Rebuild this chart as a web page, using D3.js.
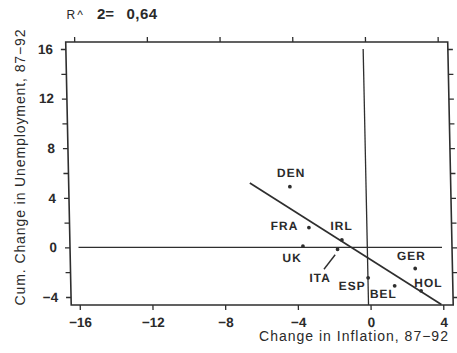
<!DOCTYPE html>
<html>
<head>
<meta charset="utf-8">
<script src="https://cdn.jsdelivr.net/npm/d3@7/dist/d3.min.js"></script>
<style>
  html, body { margin: 0; padding: 0; background: #fff; }
  svg { display: block; }
  text { font-family: "Liberation Sans", Arial, Helvetica, sans-serif; fill: #2a2a2a; }
</style>
</head>
<body>
<svg id="chart" width="457" height="353"></svg>
<script>
// Country observations: change in inflation vs. cumulative change in unemployment, 87-92
const countries   = ["DEN", "FRA", "IRL", "UK", "ITA", "ESP", "BEL", "GER", "HOL"];
const inflChange  = [-4.3, -3.3, -1.5, -3.65, -1.75, -0.1, 1.35, 2.5, 2.8];
const unempChange = [4.9, 1.6, 0.6, 0.1, -0.15, -2.45, -3.1, -1.7, -3.5];

// Fitted regression line (endpoints of the drawn segment)
const fitX = [-6.5, 3.9];
const fitY = [5.2, -4.6];

// Axis ticks and labels
const xTicks = [-16, -12, -8, -4, 0, 4];
const yTicks = [-4, -2, 0, 2, 4, 6, 8, 10, 12, 14, 16];
const yLabels = [-4, 0, 4, 8, 12, 16];
const rSquared = "0,64";

// Label placement around each point (pixels)
const labelOffset = {
  DEN: [1.5, -10], FRA: [-24.5, 2.5], IRL: [0, -9.5], UK: [-11, 15.5],
  ITA: [-18, 32.5], ESP: [-16, 12], BEL: [-11.5, 12.5], GER: [-3.5, -8], HOL: [7.5, -3.5]
};

const svg = d3.select("#chart");
const ink = "#2e2e2e";

const x = d3.scaleLinear().domain([-16, 4]).range([77, 440.5]);
const y = d3.scaleLinear().domain([-4, 16]).range([297, 49]);

const frame = { left: 68.5, right: 450.5, top: 42, bottom: 305 };

// The whole plotting panel leans slightly, as in the printed figure
const g = svg.append("g")
  .attr("transform", "translate(0,175) skewX(1.2) translate(0,-175)");

// Frame
g.append("rect")
  .attr("x", frame.left).attr("y", frame.top)
  .attr("width", frame.right - frame.left).attr("height", frame.bottom - frame.top)
  .attr("fill", "none").attr("stroke", ink).attr("stroke-width", 1.6);

const fmt = d3.format("d");

// Bottom axis
const xAxis = g.append("g").attr("transform", `translate(0,${frame.bottom})`)
  .call(d3.axisBottom(x).tickValues(xTicks).tickSize(5).tickSizeOuter(0).tickPadding(7).tickFormat(fmt));
// Top axis (ticks only)
const xTop = g.append("g").attr("transform", `translate(0,${frame.top})`)
  .call(d3.axisTop(x).tickValues(xTicks).tickSize(5).tickSizeOuter(0).tickFormat(""));
// Left axis
const yAxis = g.append("g").attr("transform", `translate(${frame.left},0)`)
  .call(d3.axisLeft(y).tickValues(yTicks).tickSize(5).tickSizeOuter(0).tickPadding(8)
    .tickFormat(d => yLabels.includes(d) ? fmt(d) : ""));
// Right axis (ticks only)
const yRight = g.append("g").attr("transform", `translate(${frame.right},0)`)
  .call(d3.axisRight(y).tickValues(yTicks).tickSize(5).tickSizeOuter(0).tickFormat(""));

[xAxis, xTop, yAxis, yRight].forEach(a => {
  a.select(".domain").remove();
  a.selectAll(".tick line").attr("stroke", ink).attr("stroke-width", 1.3);
  a.selectAll(".tick text")
    .style("font-family", "'Liberation Sans', Arial, sans-serif")
    .style("font-size", "13.5px").style("font-weight", "bold").attr("fill", "#2a2a2a");
});

// Reference lines at zero
g.append("line")
  .attr("x1", x(-16)).attr("x2", x(4)).attr("y1", y(0)).attr("y2", y(0))
  .attr("stroke", ink).attr("stroke-width", 1.2);
g.append("line")
  .attr("x1", x(0) - 2).attr("x2", x(0) - 2).attr("y1", y(16)).attr("y2", frame.bottom)
  .attr("stroke", ink).attr("stroke-width", 1.3);

// Regression line
g.append("line")
  .attr("x1", x(fitX[0])).attr("y1", y(fitY[0]))
  .attr("x2", x(fitX[1])).attr("y2", y(fitY[1]))
  .attr("stroke", ink).attr("stroke-width", 1.7);

// Points and country labels
const pts = countries.map((c, i) => ({ c, vx: inflChange[i], vy: unempChange[i] }));

g.selectAll("circle.pt").data(pts).join("circle")
  .attr("class", "pt")
  .attr("cx", d => x(d.vx)).attr("cy", d => y(d.vy)).attr("r", 1.9)
  .attr("fill", ink);

g.selectAll("text.lbl").data(pts).join("text")
  .attr("class", "lbl")
  .attr("x", d => x(d.vx) + labelOffset[d.c][0])
  .attr("y", d => y(d.vy) + labelOffset[d.c][1])
  .attr("text-anchor", "middle")
  .style("font-size", "12px").style("font-weight", "bold").style("letter-spacing", "1px")
  .text(d => d.c);

// Leader from the ITA label to its point
const ita = pts.find(d => d.c === "ITA");
g.append("line")
  .attr("x1", x(ita.vx) - 14).attr("y1", y(ita.vy) + 20)
  .attr("x2", x(ita.vx) - 2.5).attr("y2", y(ita.vy) + 5.5)
  .attr("stroke", ink).attr("stroke-width", 1.4);

// Axis titles
svg.append("text")
  .attr("x", 354).attr("y", 341)
  .attr("text-anchor", "middle")
  .style("font-size", "14px").style("letter-spacing", "1px")
  .text("Change in Inflation, 87\u221292");

svg.append("text")
  .attr("transform", "translate(25,167) rotate(-90)")
  .attr("text-anchor", "middle")
  .style("font-size", "14px").style("letter-spacing", "0.9px")
  .text("Cum. Change in Unemployment, 87\u221292");

// Fit statistic
const r2 = svg.append("text").attr("y", 18.5);
r2.append("tspan").attr("x", 66.5).style("font-size", "12px").style("letter-spacing", "2px").text("R^");
r2.append("tspan").attr("x", 97).style("font-size", "15px").style("font-weight", "bold").text("2=");
r2.append("tspan").attr("x", 126.5).style("font-size", "15px").style("font-weight", "bold").style("letter-spacing", "0.5px").text(rSquared);
</script>
</body>
</html>
